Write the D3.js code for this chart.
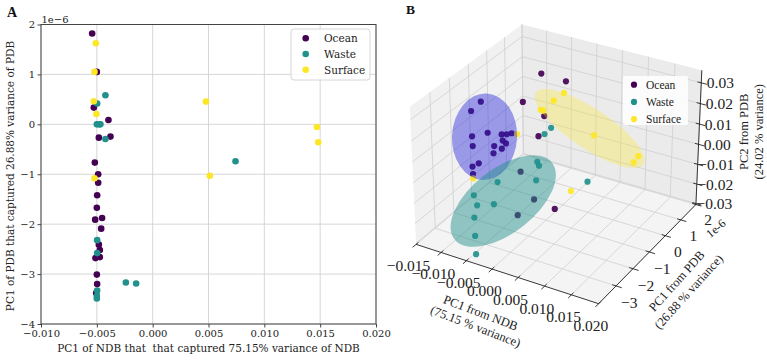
<!DOCTYPE html>
<html>
<head>
<meta charset="utf-8">
<script src="https://cdn.jsdelivr.net/npm/d3@7/dist/d3.min.js"></script>
<style>
html,body{margin:0;padding:0;background:#fff;}
svg{display:block;}
</style>
</head>
<body>
<svg id="chart" width="767" height="360"></svg>
<script>
// ---------------- DATA ----------------
const categories = ["Ocean", "Waste", "Surface"];
const colors = ["#440154", "#21918c", "#fde725"];

// Panel A : PC1 of NDB (x)  vs  PC1 of PDB (y, units of 1e-6)
const oceanA_x = [-0.00542,-0.0050,-0.00527,-0.00396,-0.00482,-0.00378,-0.00518,-0.00488,-0.00488,-0.00497,-0.0050,-0.00515,-0.00453,-0.00461,-0.00482,-0.00473,-0.00512,-0.00473,-0.0050,-0.00497,-0.00506];
const oceanA_y = [1.82,1.05,0.335,0.088,-0.267,-0.246,-0.767,-1.00,-1.17,-1.42,-1.67,-1.91,-1.876,-2.09,-2.41,-2.52,-2.68,-2.66,-3.01,-3.20,-3.38];
const wasteA_x = [-0.00423,-0.00497,-0.0050,-0.00479,-0.00468,-0.00423,-0.00497,-0.00497,-0.00497,-0.0050,-0.0050,-0.0024,-0.00148,0.00742];
const wasteA_y = [0.583,0.415,0.0,0.0,0.0,-0.293,-2.32,-2.58,-3.33,-3.44,-3.49,-3.17,-3.19,-0.74];
const surfaceA_x = [-0.00509,-0.00521,-0.00527,-0.00504,-0.00521,0.00477,0.01471,0.01483,0.00512];
const surfaceA_y = [1.625,1.05,0.463,0.208,-1.08,0.455,-0.052,-0.36,-1.03];

const xTicksA = [-0.010,-0.005,0,0.005,0.010,0.015,0.020];
const yTicksA = [-4,-3,-2,-1,0,1,2];

// Panel B : PC1 NDB (x), PC1 PDB (y, 1e-6), PC2 PDB (z)
const oceanB_x = [-0.0035,0.0004,-0.0050,-0.0111,-0.0121,-0.0088,-0.0109,-0.0104,-0.0067,-0.0060,-0.0053,-0.0063,-0.0057,-0.0073,-0.0061,-0.0071,-0.0088,-0.0096,-0.0092,-0.0013,-0.0013,-0.0024,0.0007,0.0041,-0.0010];
const oceanB_y = [-0.205,0.05,-0.82,-1.42,-1.68,-1.71,-1.98,-2.09,-1.53,-1.45,-1.37,-1.59,-1.58,-1.78,-1.70,-1.88,-2.22,-2.34,-2.43,-1.02,-0.69,-1.72,-1.87,-1.69,-2.30];
const oceanB_z = [0.0336,0.0308,0.0232,0.0233,0.0199,0.0119,0.0106,0.0070,0.0113,0.0113,0.0117,0.0090,0.0080,0.0070,0.0060,0.0043,0.0007,-0.0006,-0.0033,0.0106,0.0180,-0.0024,-0.0126,-0.0161,-0.0184];
const wasteB_x = [0.0002,-0.0005,-0.0004,0.0000,0.0002,-0.0053,0.0077,-0.0082,-0.0073,-0.0049,-0.0072,-0.0063,-0.0040];
const wasteB_y = [-0.74,-0.91,-1.36,-1.38,-1.60,-2.18,-0.88,-2.68,-2.76,-2.51,-2.95,-3.17,-3.75];
const wasteB_z = [0.0137,0.0114,0.0012,-0.0002,-0.0056,-0.0062,-0.0061,-0.0111,-0.0148,-0.0143,-0.0193,-0.0260,-0.0285];
const surfaceB_x = [0.0006,-0.0006,-0.0021,-0.0017,0.0067,0.0140,0.0136,0.0057,-0.0045,-0.0090];
const surfaceB_y = [-0.12,-0.36,-0.66,-0.64,-0.21,0.16,0.02,-1.24,-1.30,-2.48];
const surfaceB_z = [0.0265,0.0236,0.0203,0.0200,0.0109,0.0033,0.0010,-0.0095,0.0114,-0.0049];
// group ellipse centres (Ocean, Waste, Surface)
const ellipseB_x = [-0.0091,-0.0037,0.0058];
const ellipseB_y = [-1.80,-2.33,-0.19];
const ellipseB_z = [0.0104,-0.0132,0.0134];

const xTicksB = [-0.015,-0.010,-0.005,0,0.005,0.010,0.015,0.020];
const yTicksB = [-3,-2,-1,0,1,2];
const zTicksB = [-0.03,-0.02,-0.01,0,0.01,0.02,0.03];

// ---------------- LAYOUT / STYLE ----------------
const fontA = "'DejaVu Serif', serif";
const fontB = "'Liberation Serif', 'Times New Roman', serif";
const svg = d3.select("#chart");

// ================= PANEL A =================
const xA = d3.scaleLinear().domain([-0.010, 0.020]).range([41, 376]);
const yA = d3.scaleLinear().domain([-4, 2]).range([324, 24.5]);
const gA = svg.append("g");

gA.append("g").selectAll("line").data(xTicksA).join("line")
  .attr("x1", d => xA(d)).attr("x2", d => xA(d))
  .attr("y1", yA.range()[0]).attr("y2", yA.range()[1])
  .attr("stroke", "#d3d3d3").attr("stroke-width", 0.9);
gA.append("g").selectAll("line").data(yTicksA).join("line")
  .attr("y1", d => yA(d)).attr("y2", d => yA(d))
  .attr("x1", xA.range()[0]).attr("x2", xA.range()[1])
  .attr("stroke", "#d3d3d3").attr("stroke-width", 0.9);

const seriesA = [
  {xs: oceanA_x, ys: oceanA_y},
  {xs: wasteA_x, ys: wasteA_y},
  {xs: surfaceA_x, ys: surfaceA_y}
];
seriesA.forEach((s, i) => {
  gA.append("g").selectAll("circle").data(d3.range(s.xs.length)).join("circle")
    .attr("cx", k => xA(s.xs[k])).attr("cy", k => yA(s.ys[k]))
    .attr("r", 3.3).attr("fill", colors[i]);
});

const axA_x = d3.axisBottom(xA).tickValues(xTicksA).tickFormat(d3.format(".3f")).tickSize(3.5).tickPadding(2.5);
const axA_y = d3.axisLeft(yA).tickValues(yTicksA).tickFormat(d3.format("d")).tickSize(3.5).tickPadding(2.5);
function styleAxA(g) {
  g.attr("font-family", fontA).attr("font-size", 10);
  g.select(".domain").remove();
  g.selectAll(".tick line").attr("stroke", "#444");
  g.selectAll(".tick text").attr("fill", "#222");
}
gA.append("g").attr("transform", "translate(0,324)").call(axA_x).call(styleAxA);
gA.append("g").attr("transform", "translate(41,0)").call(axA_y).call(styleAxA);

gA.append("rect").attr("x", 41).attr("y", 24.5).attr("width", 335).attr("height", 299.5)
  .attr("fill", "none").attr("stroke", "#444").attr("stroke-width", 1);

gA.append("text").attr("x", 41.5).attr("y", 22.5).attr("font-family", fontA).attr("font-size", 10)
  .attr("fill", "#222").text("1e\u22126");

gA.append("text").attr("x", 208.5).attr("y", 348).attr("text-anchor", "middle")
  .attr("dominant-baseline", "central").attr("font-family", fontA).attr("font-size", 10.5)
  .attr("fill", "#222").style("white-space", "pre")
  .text("PC1 of NDB that  that captured 75.15% variance of NDB");
gA.append("text").attr("transform", "translate(10,176) rotate(-90)").attr("text-anchor", "middle")
  .attr("dominant-baseline", "central").attr("font-family", fontA).attr("font-size", 10.5)
  .attr("fill", "#222").text("PC1 of PDB that captured 26.88% variance of PDB");

// legend A
const legA = gA.append("g");
legA.append("rect").attr("x", 291).attr("y", 29).attr("width", 79).attr("height", 51).attr("rx", 3)
  .attr("fill", "#fff").attr("fill-opacity", 0.85).attr("stroke", "#ccc").attr("stroke-width", 0.8);
categories.forEach((c, i) => {
  legA.append("circle").attr("cx", 305.7).attr("cy", 38.3 + 15.7 * i).attr("r", 3.3).attr("fill", colors[i]);
  legA.append("text").attr("x", 324).attr("y", 38.3 + 15.7 * i).attr("dominant-baseline", "central")
    .attr("font-family", fontA).attr("font-size", 10.5).attr("fill", "#222").text(c);
});

svg.append("text").attr("x", 12).attr("y", 12).attr("text-anchor", "middle").attr("dominant-baseline", "central")
  .attr("font-family", fontB).attr("font-weight", "bold").attr("font-size", 14).attr("fill", "#111").text("A");

// ================= PANEL B (3D, matplotlib-like projection) =================
const uS = d3.scaleLinear().domain([-0.015, 0.020]).range([0, 1]);
const vS = d3.scaleLinear().domain([-4, 2]).range([0, 1]);
const wS = d3.scaleLinear().domain([-0.0305, 0.036]).range([0, 1]);

const aspect = [4, 4, 3];
const aspN = Math.hypot(...aspect);
const half = aspect.map(a => a * 1.8294640721620434 / aspN / 2);
const elev = 30 * Math.PI / 180, azim = -60 * Math.PI / 180, dist = 10;
const Ev = [Math.cos(elev) * Math.cos(azim), Math.cos(elev) * Math.sin(azim), Math.sin(elev)];
const Rv = [-Math.sin(azim), Math.cos(azim), 0];
const Uv = [-Math.sin(elev) * Math.cos(azim), -Math.sin(elev) * Math.sin(azim), Math.cos(elev)];
const dot = (a, b) => a[0] * b[0] + a[1] * b[1] + a[2] * b[2];
const scrX = d3.scaleLinear().domain([-1, 1]).range([558.5 - 183, 558.5 + 183]);
const scrY = d3.scaleLinear().domain([-1, 1]).range([157.6 + 183, 157.6 - 183]);

function projN(u, v, w) {
  const P = [(u - 0.5) * 2 * half[0], (v - 0.5) * 2 * half[1], (w - 0.5) * 2 * half[2]];
  const d = dot(P, Ev);
  const f = dist / (dist - d);
  return [scrX(f * dot(P, Rv)), scrY(f * dot(P, Uv)), d];
}
const projD = (x, y, z) => projN(uS(x), vS(y), wS(z));

const gB = svg.append("g");
const line = d3.line();

// panes
const panes = [
  {pts: [[0,0,0],[0,1,0],[0,1,1],[0,0,1]], fill: "#f1f1f1"},
  {pts: [[0,1,0],[1,1,0],[1,1,1],[0,1,1]], fill: "#ebebeb"},
  {pts: [[0,0,0],[1,0,0],[1,1,0],[0,1,0]], fill: "#f4f4f4"}
];
panes.forEach(p => {
  gB.append("path").attr("d", line.curve(d3.curveLinearClosed)(p.pts.map(q => projN(...q).slice(0, 2))))
    .attr("fill", p.fill).attr("stroke", "none");
});
line.curve(d3.curveLinear);

// grid lines
const grid = [];
xTicksB.forEach(t => { const u = uS(t); grid.push([[u,0,0],[u,1,0]], [[u,1,0],[u,1,1]]); });
yTicksB.forEach(t => { const v = vS(t); grid.push([[0,v,0],[1,v,0]], [[0,v,0],[0,v,1]]); });
zTicksB.forEach(t => { const w = wS(t); grid.push([[0,0,w],[0,1,w]], [[0,1,w],[1,1,w]]); });
gB.append("g").selectAll("path").data(grid).join("path")
  .attr("d", s => line(s.map(q => projN(...q).slice(0, 2))))
  .attr("stroke", "#cfcfcf").attr("stroke-width", 0.8).attr("fill", "none");

// axis lines
[[[0,0,0],[1,0,0]], [[1,0,0],[1,1,0]], [[1,1,0],[1,1,1]]].forEach(s => {
  gB.append("path").attr("d", line(s.map(q => projN(...q).slice(0, 2))))
    .attr("stroke", "#222").attr("stroke-width", 0.9).attr("fill", "none");
});
// tick marks
const tickSegs = [];
xTicksB.forEach(t => { const u = uS(t); tickSegs.push([[u,0.02,0],[u,-0.03,0]]); });
yTicksB.forEach(t => { const v = vS(t); tickSegs.push([[0.98,v,0],[1.03,v,0]]); });
zTicksB.forEach(t => { const w = wS(t); tickSegs.push([[0.98,1,w],[1.03,1,w]]); });
gB.append("g").selectAll("path").data(tickSegs).join("path")
  .attr("d", s => line(s.map(q => projN(...q).slice(0, 2))))
  .attr("stroke", "#222").attr("stroke-width", 0.9);

// tick labels
const tl = gB.append("g").attr("font-family", fontB).attr("font-size", 15.5).attr("fill", "#222")
  .attr("text-anchor", "middle").attr("dominant-baseline", "central");
xTicksB.forEach(t => { const p = projN(uS(t), -0.071, -0.107); tl.append("text").attr("x", p[0]).attr("y", p[1]).text(d3.format(".3f")(t)); });
yTicksB.forEach(t => { const p = projN(1.071, vS(t), -0.091); tl.append("text").attr("x", p[0]).attr("y", p[1]).text(d3.format("d")(t)); });
zTicksB.forEach(t => { const p = projN(1.079, 1.046, wS(t)); tl.append("text").attr("x", p[0]).attr("y", p[1]).text(d3.format(".2f")(t)); });

// offset text for y axis
{
  const p = projN(1, 1, 0);
  gB.append("text").attr("transform", `translate(${p[0] + 20},${p[1] + 24}) rotate(-40)`)
    .attr("text-anchor", "middle").attr("dominant-baseline", "central")
    .attr("font-family", fontB).attr("font-size", 12).attr("fill", "#222").text("1e-6");
}

// axis labels
function label2(cx, cy, rot, lines, lh) {
  const g = gB.append("g").attr("transform", `translate(${cx},${cy}) rotate(${rot})`);
  lines.forEach((s, i) => {
    g.append("text").attr("x", 0).attr("y", (i - (lines.length - 1) / 2) * lh)
      .attr("text-anchor", "middle").attr("dominant-baseline", "central")
      .attr("font-family", fontB).attr("font-size", 12.5).attr("fill", "#222").text(s);
  });
}
{
  const px = projN(0.5, 0, 0), py = projN(1, 0.5, 0), pz = projN(1, 1, 0.5);
  label2(px[0] - 27, px[1] + 46.5, 21, ["PC1 from NDB", "(75.15 % variance)"], 14.5);
  label2(py[0] + 33.5, py[1] + 34.5, -48, ["PC1 from PDB", "(26.88 % variance)"], 16);
  label2(pz[0] + 52.5, pz[1] - 7, -90, ["PC2 from PDB", "(24.02 % variance)"], 15);
}

// scatter points
const seriesB = [
  {xs: oceanB_x, ys: oceanB_y, zs: oceanB_z},
  {xs: wasteB_x, ys: wasteB_y, zs: wasteB_z},
  {xs: surfaceB_x, ys: surfaceB_y, zs: surfaceB_z}
];
seriesB.forEach((s, i) => {
  const pts = d3.range(s.xs.length).map(k => projD(s.xs[k], s.ys[k], s.zs[k]));
  gB.append("g").selectAll("circle").data(pts).join("circle")
    .attr("cx", p => p[0]).attr("cy", p => p[1]).attr("r", 3.1)
    .attr("fill", colors[i]).attr("fill-opacity", 0.92);
});

// group ellipses (projected centres; radii/rotation are screen style)
const ellipseStyle = [
  {rx: 32.5, ry: 43.3, rot: 3, fill: "#2020d8", op: 0.42},
  {rx: 62, ry: 32, rot: -38, fill: "#21918c", op: 0.48},
  {rx: 64.7, ry: 20, rot: 33.6, fill: "#fde725", op: 0.3}
];
ellipseStyle.forEach((e, i) => {
  const c = projD(ellipseB_x[i], ellipseB_y[i], ellipseB_z[i]);
  gB.append("ellipse").attr("transform", `translate(${c[0]},${c[1]}) rotate(${e.rot})`)
    .attr("rx", e.rx).attr("ry", e.ry).attr("fill", e.fill).attr("fill-opacity", e.op);
});

// legend B
const legB = gB.append("g");
legB.append("rect").attr("x", 623).attr("y", 76).attr("width", 65).attr("height", 49).attr("rx", 2)
  .attr("fill", "#fff").attr("fill-opacity", 0.85);
categories.forEach((c, i) => {
  legB.append("circle").attr("cx", 634).attr("cy", 84.7 + 17.2 * i).attr("r", 3.1).attr("fill", colors[i]);
  legB.append("text").attr("x", 646).attr("y", 84.7 + 17.2 * i).attr("dominant-baseline", "central")
    .attr("font-family", fontB).attr("font-size", 11.5).attr("fill", "#222").text(c);
});

svg.append("text").attr("x", 410.5).attr("y", 9.5).attr("text-anchor", "middle").attr("dominant-baseline", "central")
  .attr("font-family", fontB).attr("font-weight", "bold").attr("font-size", 13.5).attr("fill", "#111").text("B");
</script>
</body>
</html>
